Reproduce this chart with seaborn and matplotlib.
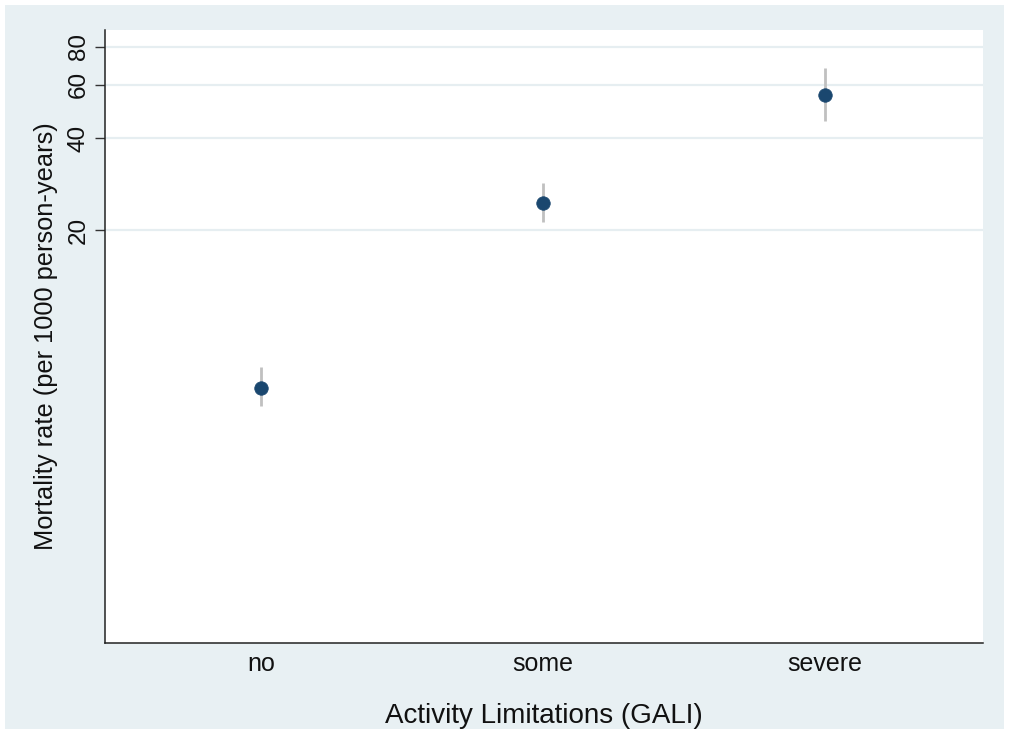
import matplotlib
matplotlib.use("Agg")
import matplotlib.pyplot as plt
import seaborn as sns
import pandas as pd

categories = ["no", "some", "severe"]
rates = [6.07, 24.6, 55.4]
ci_lower = [5.28, 21.2, 45.6]
ci_upper = [7.08, 28.5, 67.9]
y_ticks = [20, 40, 60, 80]

sns.set_theme(style="white")
plt.rcParams["font.family"] = ["Liberation Sans", "DejaVu Sans"]

BG = "#e8f0f3"
GRID = "#e6eef1"
NAVY = "#1a476f"
CI = "#c0c0c0"

fig = plt.figure(figsize=(10.09, 7.34), dpi=100, facecolor="white")
# outer background panel
fig.patches.append(plt.Rectangle((5 / 1009, 5 / 734), 999 / 1009, 724 / 734,
                                 transform=fig.transFigure, facecolor=BG,
                                 edgecolor="none", zorder=-10))
ax = fig.add_axes([105 / 1009, 1 - 642.7 / 734, 878 / 1009, 612.7 / 734])
ax.set_zorder(5)
ax.set_facecolor("white")

df = pd.DataFrame({"cat": categories, "rate": rates,
                   "lo": ci_lower, "hi": ci_upper})

ax.vlines(df["cat"], df["lo"], df["hi"], color=CI, linewidth=2.0, zorder=2)
sns.scatterplot(data=df, x="cat", y="rate", ax=ax, s=95, color=NAVY,
                edgecolor=NAVY, linewidth=0.5, zorder=3)

ax.set_yscale("log")
ax.set_ylim(0.882, 90.8)
ax.set_xlim(-0.553, 2.56)
ax.set_yticks(y_ticks)
ax.set_yticklabels([str(t) for t in y_ticks], rotation=90, va="center")
ax.yaxis.set_minor_locator(matplotlib.ticker.NullLocator())
for t in y_ticks:
    ax.axhline(t, color=GRID, linewidth=1.6, zorder=1)

ax.tick_params(axis="y", length=7.0, width=1.0, color="#333333",
               labelsize=17.5, pad=4, left=True, labelcolor="#111111")
ax.tick_params(axis="x", length=0, labelsize=18, pad=7, labelcolor="#111111")

for s in ["top", "right"]:
    ax.spines[s].set_visible(False)
for s in ["left", "bottom"]:
    ax.spines[s].set_color("#222222")
    ax.spines[s].set_linewidth(1.1)

ax.set_xlabel("Activity Limitations (GALI)", fontsize=20, labelpad=19,
              color="#111111")
ax.set_ylabel("Mortality rate (per 1000 person-years)", fontsize=18.3,
              labelpad=7, color="#111111")

fig.savefig("out.png", dpi=100, facecolor="white")
